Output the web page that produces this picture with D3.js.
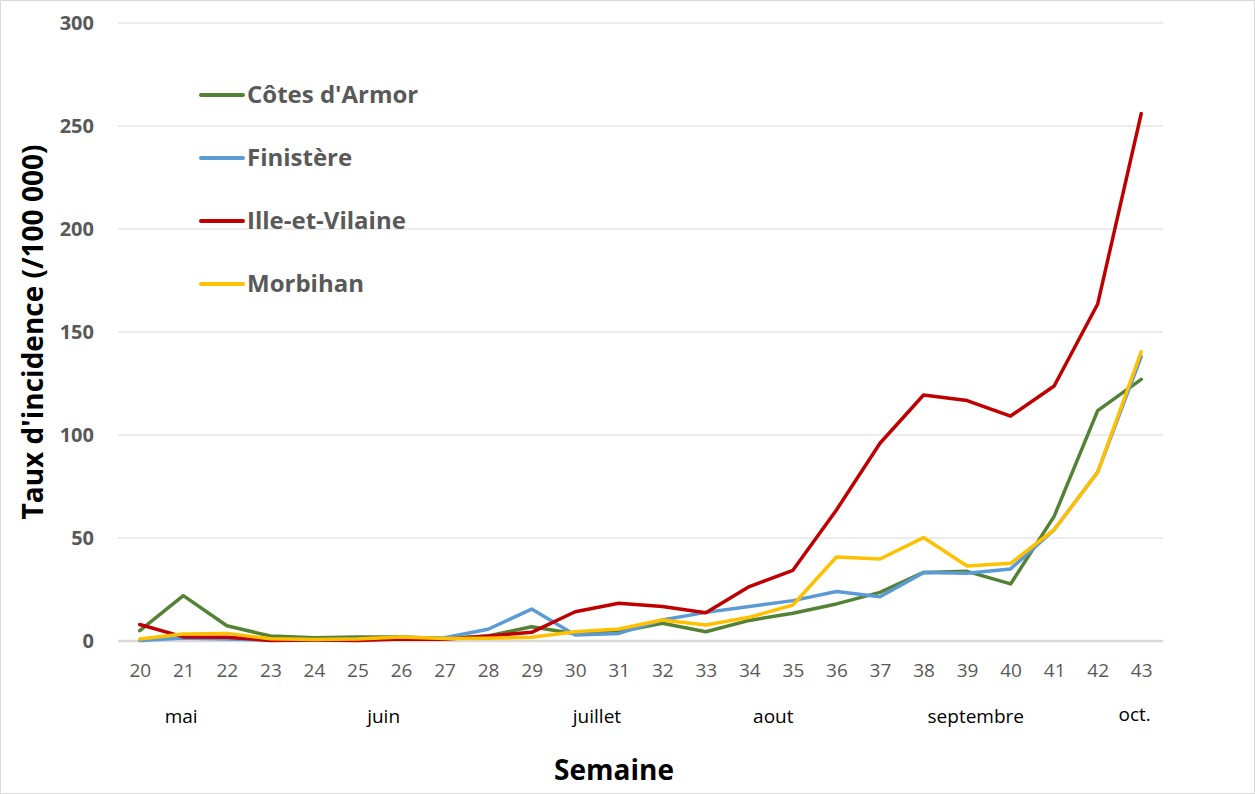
<!DOCTYPE html>
<html>
<head>
<meta charset="utf-8">
<script src="https://cdn.jsdelivr.net/npm/d3@7"></script>
<style>
  body { margin: 0; background: #fff; }
  svg { display: block; font-family: "Open Sans", sans-serif; }
</style>
</head>
<body>
<div id="chart"></div>
<script>
const weeks = d3.range(20, 44)

const cotesArmor = [5, 22, 7.4, 2.4, 1.6, 2, 2, 1.2, 2.4, 6.9, 3.5, 4.5, 8.6, 4.5, 10, 13.5, 18, 23.6, 33.3, 33.8, 27.7, 60.5, 111.8, 127]
const finistere = [0.3, 1.5, 1, 0.5, 0.5, 0.8, 1.2, 1.6, 5.7, 15.5, 2.9, 3.7, 10.2, 13.9, 16.8, 19.6, 24, 21.5, 33.2, 32.9, 35, 54, 82, 138]
const illeVilaine = [8, 2, 1.8, 0.3, 0.5, 0.3, 1, 0.8, 2.4, 4.2, 14.2, 18.3, 16.7, 13.7, 26.4, 34.3, 63.6, 96, 119.4, 116.7, 109.2, 123.8, 163.6, 256]
const morbihan = [1, 3.4, 3.7, 1.1, 0.7, 1, 2, 1.2, 1.3, 1.8, 4.5, 5.8, 10.2, 7.8, 11.5, 17.5, 40.8, 39.8, 50.2, 36.4, 37.7, 54, 82, 140.4]

const seriesNames = ['Côtes d\'Armor', 'Finistère', 'Ille-et-Vilaine', 'Morbihan']
const seriesValues = [cotesArmor, finistere, illeVilaine, morbihan]
const seriesColors = ['#548235', '#5b9bd5', '#c00000', '#ffc000']

const yTicks = [0, 50, 100, 150, 200, 250, 300]
const monthLabels = ['mai', 'juin', 'juillet', 'aout', 'septembre', 'oct.']
const monthWeeks = [20.95, 25.6, 30.5, 34.55, 39.2, 42.85]

const width = 1255
const height = 794
const margin = {top: 23, right: 92, bottom: 153, left: 118}

const svg = d3.select('#chart').append('svg')
  .attr('width', width)
  .attr('height', height)

// outer frame
svg.append('rect')
  .attr('x', 0.5).attr('y', 0.5)
  .attr('width', width - 1).attr('height', height - 1)
  .attr('fill', '#fff').attr('stroke', '#d9d9d9')

const x = d3.scalePoint()
  .domain(weeks)
  .range([margin.left, width - margin.right])
  .padding(0.5)

const y = d3.scaleLinear()
  .domain([0, 300])
  .range([height - margin.bottom, margin.top])

// gridlines
svg.append('g')
  .selectAll('line')
  .data(yTicks.filter(d => d > 0))
  .join('line')
  .attr('x1', margin.left).attr('x2', width - margin.right)
  .attr('y1', d => y(d)).attr('y2', d => y(d))
  .attr('stroke', '#d9d9d9').attr('stroke-width', 1)

// y axis labels
const yAxis = svg.append('g')
  .attr('transform', `translate(${margin.left - 24},0)`)
  .call(d3.axisLeft(y).tickValues(yTicks).tickSize(0).tickPadding(0))
yAxis.select('.domain').remove()
yAxis.selectAll('text')
  .attr('fill', '#595959')
  .attr('font-size', 20)
  .attr('font-weight', 'bold')
  .attr('font-family', '"Open Sans", sans-serif')

// x axis baseline + labels
const xAxis = svg.append('g')
  .attr('transform', `translate(0,${y(0)})`)
  .call(d3.axisBottom(x).tickSize(0).tickPadding(23))
xAxis.select('.domain')
  .attr('d', `M${margin.left},0H${width - margin.right}`)
  .attr('stroke', '#d9d9d9').attr('stroke-width', 2.5)
xAxis.selectAll('text')
  .attr('fill', '#595959')
  .attr('font-size', 19)
  .attr('font-family', '"Open Sans", sans-serif')

// month labels
svg.append('g')
  .selectAll('text')
  .data(monthLabels)
  .join('text')
  .attr('x', (d, i) => x(20) + (monthWeeks[i] - 20) * x.step())
  .attr('y', (d, i) => i === 5 ? 721 : 723)
  .attr('text-anchor', 'middle')
  .attr('font-size', 19)
  .attr('fill', '#000')
  .text(d => d)

// lines
const line = d3.line()
  .x((d, i) => x(weeks[i]))
  .y(d => y(d))

svg.append('g')
  .selectAll('path')
  .data(seriesValues)
  .join('path')
  .attr('d', line)
  .attr('fill', 'none')
  .attr('stroke', (d, i) => seriesColors[i])
  .attr('stroke-width', 3.5)
  .attr('stroke-linejoin', 'round')
  .attr('stroke-linecap', 'round')

// legend
const legend = svg.append('g')
  .selectAll('g')
  .data(seriesNames)
  .join('g')
  .attr('transform', (d, i) => `translate(201,${95 + i * 63})`)
legend.append('line')
  .attr('x1', 0).attr('x2', 42)
  .attr('stroke', (d, i) => seriesColors[i])
  .attr('stroke-width', 4)
  .attr('stroke-linecap', 'round')
legend.append('text')
  .attr('x', 46).attr('dy', '0.35em')
  .attr('font-size', 24)
  .attr('font-weight', 'bold')
  .attr('fill', '#595959')
  .text(d => d)

// axis titles
svg.append('text')
  .attr('transform', `translate(43,${(y(0) + y(300)) / 2}) rotate(-90)`)
  .attr('text-anchor', 'middle')
  .attr('font-size', 28)
  .attr('font-weight', 'bold')
  .attr('fill', '#000')
  .text('Taux d\'incidence (/100 000)')

svg.append('text')
  .attr('x', 614).attr('y', 780)
  .attr('text-anchor', 'middle')
  .attr('font-size', 28)
  .attr('font-weight', 'bold')
  .attr('fill', '#000')
  .text('Semaine')
</script>
</body>
</html>
